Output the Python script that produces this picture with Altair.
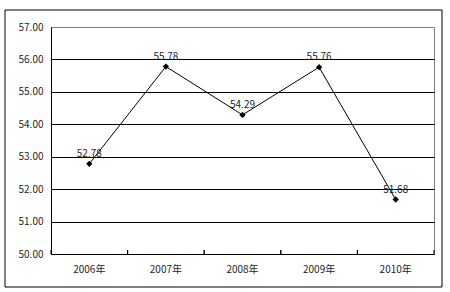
import altair as alt
import pandas as pd

years = ["2006年", "2007年", "2008年", "2009年", "2010年"]
values = [52.78, 55.78, 54.29, 55.76, 51.68]
yticks = [50, 51, 52, 53, 54, 55, 56, 57]

df = pd.DataFrame({"year": years, "value": values})
FONT = "Noto Sans CJK SC"
TXT = "#1e1e28"

xs = alt.Scale(domain=years, paddingInner=0, paddingOuter=0)
ys = alt.Scale(domain=[50, 57], nice=False, zero=False)

x_axis = alt.Axis(title=None, labelAngle=0, tickSize=0, labelPadding=10,
                  labelFont=FONT, labelFontSize=10, labelColor=TXT,
                  domainColor="black", domainWidth=1, labelOverlap=False)
y_axis = alt.Axis(title=None, values=yticks, format=".2f", labelOverlap=False,
                  tickSize=0, labelPadding=8, labelFont=FONT, labelFontSize=10,
                  labelColor=TXT, domainColor="black", domainWidth=1,
                  grid=True, gridWidth=1,
                  gridColor={"condition": {"test": "datum.value == 57", "value": "#808080"},
                             "value": "black"})

X = alt.X("year:N", scale=xs, sort=years, axis=x_axis)
Y = alt.Y("value:Q", scale=ys, axis=y_axis)

base = alt.Chart(df)

labels = base.mark_text(dy=-10, baseline="middle", font=FONT, fontSize=10, color=TXT).encode(
    x=X, y=Y, text=alt.Text("value:Q", format=".2f"))

line = base.mark_line(color="black", strokeWidth=1).encode(x=X, y=Y)

pts = base.mark_point(shape="diamond", filled=True, color="black", size=40, opacity=1).encode(x=X, y=Y)

ticks_l = base.mark_rule(color="black", strokeWidth=1).encode(
    x=alt.X("year:N", scale=xs, sort=years, bandPosition=0, axis=x_axis),
    y=alt.value(223), y2=alt.value(227))
ticks_r = base.mark_rule(color="black", strokeWidth=1).encode(
    x=alt.X("year:N", scale=xs, sort=years, bandPosition=1, axis=x_axis),
    y=alt.value(223), y2=alt.value(227))

frame = alt.Chart(pd.DataFrame({"a": [0]})).mark_rect(fill=None, stroke="black", strokeWidth=1).encode(
    x=alt.value(-46), x2=alt.value(391), y=alt.value(-17), y2=alt.value(260))

chart = alt.layer(frame, labels, line, ticks_l, ticks_r, pts).properties(
    width=383, height=227,
    padding={"left": 51, "top": 27, "right": 16, "bottom": 38},
    autosize=alt.AutoSizeParams(type="none"),
    background="white",
).configure_view(stroke="#808080", strokeWidth=1)

chart.save("out.html", embed_options={"renderer": "svg", "actions": False})
